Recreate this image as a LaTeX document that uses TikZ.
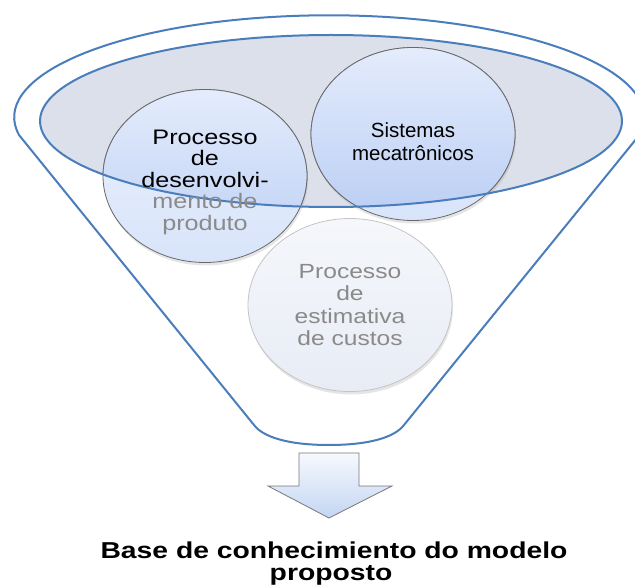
\documentclass[tikz,border=0pt]{standalone}
\usepackage{fontspec}
\setmainfont{Liberation Sans}
\usetikzlibrary{shapes.geometric,shadows}
\definecolor{funnelblue}{RGB}{74,125,187}
\definecolor{rimfill}{RGB}{219,224,235}
\definecolor{bubtop}{RGB}{228,236,252}
\definecolor{bubbot}{RGB}{186,206,244}
\definecolor{lighttop}{RGB}{236,242,253}
\definecolor{lightbot}{RGB}{216,228,250}
\definecolor{bubline}{RGB}{105,105,105}
\definecolor{paletop}{RGB}{245,247,251}
\definecolor{palebot}{RGB}{232,236,245}
\definecolor{paleline}{RGB}{196,196,196}
\definecolor{txtgray}{RGB}{138,138,138}
\definecolor{arrtop}{RGB}{246,249,254}
\definecolor{arrbot}{RGB}{196,214,243}
\definecolor{arrline}{RGB}{120,120,120}
\tikzset{
  funnel/.style={draw=funnelblue,line width=2pt},
  bubble/.style={ellipse,draw=bubline,line width=0.8pt,top color=lighttop,bottom color=lightbot,
    minimum width=204pt,minimum height=173pt,inner sep=0pt,
    drop shadow={shadow xshift=1pt,shadow yshift=-3pt,opacity=0.2}},
  palebubble/.style={bubble,draw=paleline,top color=paletop,bottom color=palebot},
  inbubble/.style={draw=bubline,line width=0.8pt,top color=bubtop,bottom color=bubbot},
  bubtext/.style={align=center,inner sep=0pt},
  basetext/.style={font=\fontsize{23}{26}\selectfont\bfseries,inner sep=0pt,anchor=base}
}
\newcommand\wx[1]{\scalebox{1.2}[1]{#1}}
\newcommand\wy[1]{\scalebox{1.23}[1]{#1}}

\begin{document}
\begin{tikzpicture}[x=1pt,y=-1pt]
\useasboundingbox (0,0) rectangle (635,588);
% funnel body
\draw[funnel,fill=white] (19,135) arc[start angle=170,end angle=370,x radius=315,y radius=102]
  -- (404,425) .. controls (395,437) and (370,445) .. (329,445)
  .. controls (288,445) and (263,437) .. (254,425) -- cycle;
\node[ellipse,fill=rimfill,minimum width=582pt,minimum height=172pt,inner sep=0pt] (rim) at (331,121) {};
% the three subjects
\node[palebubble] (pec) at (350,305) {};
\node[bubble] (pdp) at (205,176) {};
\node[bubble] (sm) at (413,134) {};
\begin{scope}
  \clip (rim.center) ellipse [x radius=291,y radius=86];
  \draw[inbubble] (pdp.center) ellipse [x radius=102,y radius=86.5];
  \draw[inbubble] (sm.center) ellipse [x radius=102,y radius=86.5];
\end{scope}
\draw[funnel] (rim.center) ellipse [x radius=291,y radius=86];
\node[bubtext,text=txtgray,font=\fontsize{20.5}{22.3}\selectfont] (pectext) at (pec.center)
  {\wx{Processo}\\\wx{de}\\\wx{estimativa}\\\wx{de custos}};
\node[bubtext,font=\fontsize{21}{21.5}\selectfont] (pdptext) at ([yshift=-6pt]pdp.center)
  {\wx{Processo}\\\wx{de}\\\wx{desenvolvi-}\\\textcolor{txtgray}{\wx{mento de}}\\\textcolor{txtgray}{\wx{produto}}};
\node[bubtext,font=\fontsize{20.5}{23}\selectfont] (smtext) at ([yshift=-8pt]sm.center) {Sistemas\\mecatrônicos};
% arrow and result
\draw[top color=arrtop,bottom color=arrbot,draw=arrline,line width=0.8pt]
  (299,453) -- (359,453) -- (359,486) -- (392,486) -- (329,518) -- (268,486) -- (299,486) -- cycle;
\node[basetext] (base) at (334,558) {\wy{Base de conhecimiento do modelo}};
\node[basetext] (prop) at (331,580) {\wy{proposto}};
\end{tikzpicture}
\end{document}
